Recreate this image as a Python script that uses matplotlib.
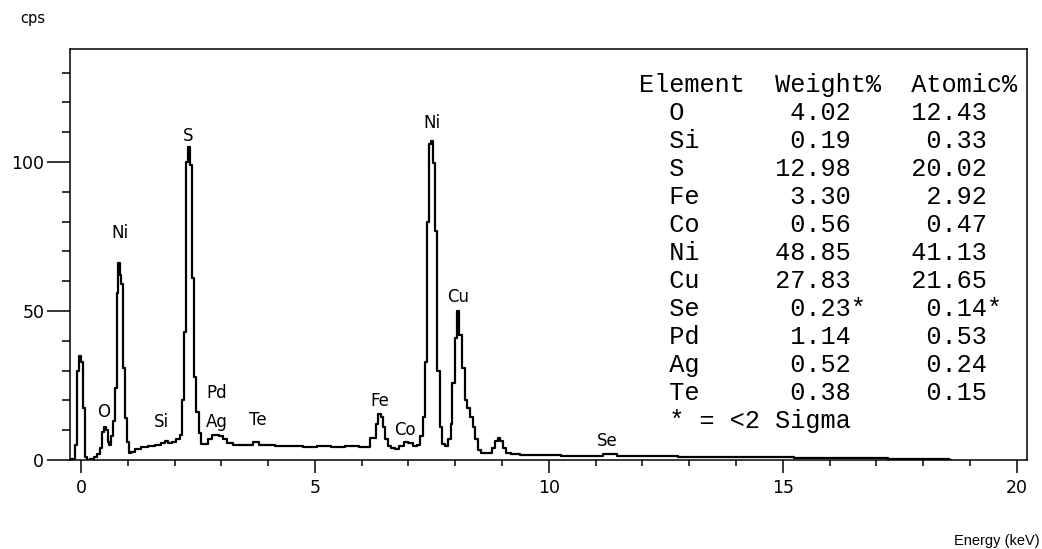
import matplotlib
matplotlib.use("Agg")
import matplotlib.pyplot as plt
from matplotlib.ticker import MultipleLocator, FixedLocator

# ---- data ----
energy_kev = [-0.24, -0.14, -0.10, -0.06, -0.02, 0.02, 0.06, 0.10, 0.15, 0.25, 0.32, 0.38,
              0.43, 0.47, 0.51, 0.55, 0.59, 0.62, 0.66, 0.70, 0.74, 0.78, 0.82, 0.85, 0.88,
              0.92, 0.96, 1.00, 1.05, 1.10, 1.20, 1.35, 1.50, 1.65, 1.75, 1.82, 1.90, 2.00,
              2.08, 2.14, 2.18, 2.22, 2.27, 2.31, 2.35, 2.39, 2.44, 2.49, 2.54, 2.60, 2.68,
              2.76, 2.84, 2.92, 3.00, 3.08, 3.18, 3.30, 3.45, 3.60, 3.74, 3.85, 4.00, 4.30,
              4.60, 4.90, 5.20, 5.50, 5.80, 6.10, 6.26, 6.33, 6.38, 6.44, 6.48, 6.53, 6.58,
              6.66, 6.75, 6.86, 6.95, 7.04, 7.14, 7.22, 7.29, 7.33, 7.37, 7.42, 7.47, 7.51,
              7.55, 7.59, 7.64, 7.69, 7.74, 7.82, 7.88, 7.92, 7.96, 8.01, 8.06, 8.11, 8.17,
              8.23, 8.29, 8.35, 8.40, 8.45, 8.50, 8.60, 8.75, 8.83, 8.88, 8.93, 8.98, 9.05,
              9.12, 9.25, 9.50, 10.0, 10.5, 11.0, 11.3, 11.6, 12.0, 12.5, 13.0, 13.5, 14.0,
              14.5, 15.0, 15.5, 16.0, 16.5, 17.0, 17.5, 18.0, 18.5, 18.6]
counts_cps = [0.2, 0.5, 5, 30, 35, 33, 17.5, 1, 0, 0.3, 1, 2,
              4, 9.5, 11, 10, 6, 5, 8, 13, 24, 56, 66, 62, 59,
              31, 14, 6, 2.5, 2.8, 3.6, 4.2, 4.6, 5.0, 5.6, 6.5, 5.8, 6.2,
              7.0, 8.5, 20, 43, 100, 105, 99, 61, 28, 16, 9, 5.5, 5.4,
              7, 8.3, 8.5, 8.0, 7, 5.8, 5.2, 5.0, 5.0, 6.0, 5.1, 4.9, 4.6,
              4.8, 4.5, 4.7, 4.5, 4.6, 4.4, 7.5, 12, 15.6, 14.5, 11, 7, 4.8,
              4.0, 3.8, 4.8, 6.0, 5.6, 4.8, 5.0, 8, 14.5, 33, 80, 106, 107,
              99.5, 77, 30, 11, 5.4, 4.6, 7, 12, 26, 41, 50, 42, 31,
              20, 17.5, 14.5, 11, 7, 3.2, 2.2, 2.3, 4, 6.5, 7.5, 6.5, 4,
              2.5, 2.0, 1.7, 1.6, 1.5, 1.5, 1.9, 1.4, 1.3, 1.2, 1.1, 1.0, 1.0,
              0.9, 0.9, 0.8, 0.8, 0.7, 0.6, 0.5, 0.4, 0.3, 0]

peak_labels = ["O", "Ni", "Si", "S", "Pd", "Ag", "Te", "Fe", "Co", "Ni", "Cu", "Se"]
peak_label_x = [0.49, 0.84, 1.72, 2.29, 2.90, 2.90, 3.79, 6.39, 6.93, 7.51, 8.06, 11.25]
peak_label_y = [16.2, 76, 12.9, 108.6, 22.4, 12.9, 13.4, 19.9, 10.2, 113, 54.8, 6.5]

table_elements = ["O", "Si", "S", "Fe", "Co", "Ni", "Cu", "Se", "Pd", "Ag", "Te"]
table_weight = [4.02, 0.19, 12.98, 3.30, 0.56, 48.85, 27.83, 0.23, 1.14, 0.52, 0.38]
table_atomic = [12.43, 0.33, 20.02, 2.92, 0.47, 41.13, 21.65, 0.14, 0.53, 0.24, 0.15]
table_low_sigma = [False, False, False, False, False, False, False, True, False, False, False]

x_major = [0, 5, 10, 15, 20]
y_major = [0, 50, 100]

# ---- figure ----
W, H = 1042, 549
fig = plt.figure(figsize=(W / 100, H / 100), dpi=100)
ax_l, ax_r, ax_t, ax_b = 70, 1027, 49, 460
ax = fig.add_axes([ax_l / W, 1 - ax_b / H, (ax_r - ax_l) / W, (ax_b - ax_t) / H])

ax.plot(energy_kev, counts_cps, drawstyle="steps-mid", color="black", lw=1.6)
ax.set_xlim(-0.235, 20.22)
ax.set_ylim(0, 137.9)

for s in ax.spines.values():
    s.set_linewidth(1.1)

sans = "DejaVu Sans"
ax.xaxis.set_major_locator(FixedLocator(x_major))
ax.xaxis.set_minor_locator(MultipleLocator(1))
ax.yaxis.set_major_locator(FixedLocator(y_major))
ax.yaxis.set_minor_locator(MultipleLocator(10))
ax.tick_params(axis="both", which="major", direction="out", width=1.1, labelsize=12.5)
ax.tick_params(axis="x", which="major", length=9.5, pad=4)
ax.tick_params(axis="y", which="major", length=16.5, pad=2)
ax.tick_params(axis="x", which="minor", direction="out", length=4.5, width=1.1)
ax.tick_params(axis="y", which="minor", direction="out", length=5.5, width=1.1)
for lab in ax.get_xticklabels() + ax.get_yticklabels():
    lab.set_fontfamily(sans)

for t, xv, yv in zip(peak_labels, peak_label_x, peak_label_y):
    ax.text(xv, yv, t, ha="center", va="center", fontsize=12, family=sans)

fig.text(33 / W, 1 - 18 / H, "cps", ha="center", va="center", fontsize=10.5, family=sans)
fig.text(1040 / W, 1 - 541 / H, "Energy (keV)", ha="right", va="center", fontsize=10.5,
         family="Liberation Sans")

# ---- results table (monospace) ----
mono = "Liberation Mono"
x0 = 639
base0 = 92
step = 28
fs = 18.2

def put(row, s):
    fig.text(x0 / W, 1 - (base0 + step * row) / H, s, ha="left", va="baseline",
             fontsize=fs, family=mono)

put(0, "Element  Weight%  Atomic%")
for i, (el, w, a, f) in enumerate(zip(table_elements, table_weight, table_atomic, table_low_sigma)):
    star = "*" if f else " "
    put(i + 1, f"  {el:<7}{w:>5.2f}{star}   {a:>5.2f}{star}")
put(len(table_elements) + 1, "  * = <2 Sigma")

fig.savefig("out.png", dpi=100)
